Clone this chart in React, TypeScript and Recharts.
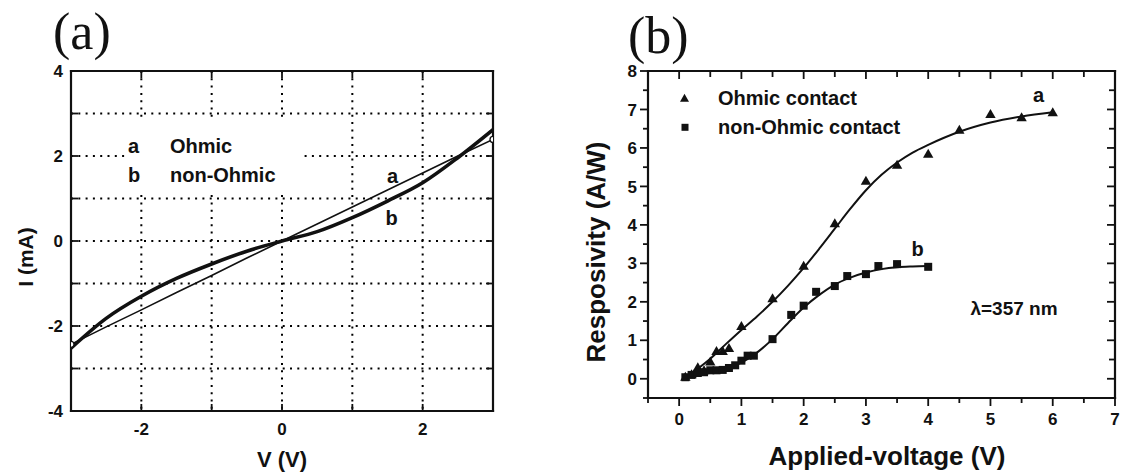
import React from 'react';
import { ComposedChart, LineChart, Line, Scatter, XAxis, YAxis, CartesianGrid, Legend } from 'recharts';

const SANS = '"Liberation Sans", Arial, Helvetica, sans-serif';
const SERIF = '"Liberation Serif", "Times New Roman", serif';
const INK = '#111';

// panel (a): I-V curves
const ivVoltage = [-3, -2.5, -2, -1.5, -1, -0.5, 0, 0.5, 1, 1.5, 2, 2.5, 3];
const ivOhmic = [-2.43, -2.02, -1.62, -1.21, -0.81, -0.4, 0, 0.4, 0.8, 1.2, 1.6, 2.0, 2.39];
const ivNonOhmic = [-2.52, -1.82, -1.3, -0.88, -0.54, -0.24, 0, 0.22, 0.55, 0.94, 1.37, 1.96, 2.62];
const ivSeries = ['Ohmic', 'non-Ohmic'];
const ivKeys = ['a', 'b'];
const ivTicksX = [-3, -2, -1, 0, 1, 2, 3];
const ivTicksY = [-4, -3, -2, -1, 0, 1, 2, 3, 4];

// panel (b): responsivity, measured points
const ohmicV = [0.1, 0.2, 0.3, 0.4, 0.5, 0.6, 0.7, 0.8, 1, 1.5, 2, 2.5, 3, 3.5, 4, 4.5, 5, 5.5, 6];
const ohmicR = [0.05, 0.12, 0.3, 0.22, 0.45, 0.72, 0.72, 0.8, 1.37, 2.09, 2.94, 4.04, 5.15, 5.56, 5.85, 6.47, 6.88, 6.8, 6.93];
const nonOhmicV = [0.1, 0.2, 0.3, 0.4, 0.5, 0.6, 0.7, 0.8, 0.9, 1.0, 1.1, 1.2, 1.5, 1.8, 2.0, 2.2, 2.5, 2.7, 3.0, 3.2, 3.5, 4.0];
const nonOhmicR = [0.04, 0.1, 0.15, 0.17, 0.22, 0.22, 0.23, 0.28, 0.35, 0.47, 0.6, 0.6, 1.03, 1.66, 1.9, 2.26, 2.41, 2.67, 2.72, 2.93, 2.98, 2.91];
const respSeries = ['Ohmic contact', 'non-Ohmic contact'];

// panel (b): fitted curves
const fitOhmicV = [0.1, 0.25, 0.5, 0.75, 1, 1.25, 1.5, 1.75, 2, 2.25, 2.5, 2.75, 3, 3.25, 3.5, 3.75, 4, 4.5, 5, 5.5, 6];
const fitOhmicR = [0.02, 0.2, 0.52, 0.9, 1.27, 1.62, 2.0, 2.42, 2.88, 3.38, 3.9, 4.42, 4.9, 5.3, 5.62, 5.88, 6.08, 6.42, 6.66, 6.82, 6.93];
const fitNonOhmicV = [0.1, 0.5, 0.75, 1, 1.25, 1.5, 1.75, 2, 2.25, 2.5, 2.75, 3, 3.25, 3.5, 3.75, 4];
const fitNonOhmicR = [0.03, 0.18, 0.26, 0.42, 0.68, 1.03, 1.45, 1.85, 2.18, 2.45, 2.63, 2.76, 2.85, 2.9, 2.92, 2.93];

const rTicksX = [-0.5, 0, 0.5, 1, 1.5, 2, 2.5, 3, 3.5, 4, 4.5, 5, 5.5, 6, 6.5, 7];
const rTicksY = [-0.5, 0, 0.5, 1, 1.5, 2, 2.5, 3, 3.5, 4, 4.5, 5, 5.5, 6, 6.5, 7, 7.5, 8];

const ivData = ivVoltage.map((v, i) => ({ v, a: ivOhmic[i], b: ivNonOhmic[i] }));
const toPoints = (xs: number[], ys: number[]) => xs.map((x, i) => ({ x, y: ys[i] }));

type Side = 'top' | 'bottom' | 'left' | 'right';
interface TickSpec {
  side: Side;
  inward: boolean;
  majorLen: number;
  minorLen: number;
  labelEvery?: number;
  labelGap?: number;
  fontSize?: number;
}

const near = (v: number, step: number) => Math.abs(v / step - Math.round(v / step)) < 1e-6;

// draws the tick mark itself so minor/major lengths and in/out direction can differ
const makeTick = (s: TickSpec) => (props: any) => {
  const { x, y, payload, index } = props;
  const v = Number(payload.value);
  const len = near(v, 1) ? s.majorLen : s.minorLen;
  const out = s.inward ? -len : len;
  const away = s.side === 'bottom' || s.side === 'right' ? 1 : -1;
  const horizontal = s.side === 'top' || s.side === 'bottom';
  const lineProps = horizontal
    ? { x1: x, x2: x, y1: y, y2: y + away * out }
    : { x1: x, x2: x + away * out, y1: y, y2: y };
  const fs = s.fontSize ?? 17;
  const gap = s.labelGap ?? 0;
  let label = null;
  if (s.labelEvery !== undefined && near(v, s.labelEvery)) {
    if (s.side === 'bottom') {
      label = (
        <text x={x} y={y + gap} textAnchor="middle" fontFamily={SANS} fontWeight="bold" fontSize={fs} fill={INK}>
          {String(v)}
        </text>
      );
    } else if (s.side === 'left') {
      label = (
        <text x={x - gap} y={y + fs * 0.36} textAnchor="end" fontFamily={SANS} fontWeight="bold" fontSize={fs} fill={INK}>
          {String(v)}
        </text>
      );
    }
  }
  return (
    <g key={`tick-${s.side}-${index}`}>
      <line {...lineProps} stroke={INK} strokeWidth={1.8} />
      {label}
    </g>
  );
};

const frameLine = { stroke: INK, strokeWidth: 2.2, strokeLinecap: 'square' as const };
const axisCommon = { tickSize: 0, tickMargin: 0, tickLine: false, interval: 0 as const, allowDataOverflow: true };

const endDot = (props: any) => {
  const { cx, cy, index } = props;
  if (index === 0 || index === ivVoltage.length - 1) {
    return <circle key={`end-${index}`} cx={cx} cy={cy} r={3} fill="#fff" stroke={INK} strokeWidth={1.3} />;
  }
  return <g key={`end-${index}`} />;
};

const IvLegend = (props: any) => {
  const items = ((props.payload ?? []) as any[]).filter((it) => ivSeries.includes(it.value));
  return (
    <svg width={176} height={72} style={{ display: 'block', background: '#fff', overflow: 'visible' }}>
      {items.map((it: any) => {
        const k = ivSeries.indexOf(it.value);
        const y = 30.5 + k * 29;
        return (
          <g key={String(it.value)} fontFamily={SANS} fontWeight="bold" fontSize={20} fill={INK}>
            <text x={2} y={y}>{ivKeys[k]}</text>
            <text x={44} y={y}>{it.value}</text>
          </g>
        );
      })}
    </svg>
  );
};

const Triangle = (props: any) => {
  const { cx, cy } = props;
  return <polygon points={`${cx},${cy - 5} ${cx + 5.2},${cy + 4} ${cx - 5.2},${cy + 4}`} fill={INK} />;
};

const Square = (props: any) => {
  const { cx, cy } = props;
  return <rect x={cx - 4} y={cy - 4} width={8} height={8} fill={INK} />;
};

const RespLegend = (props: any) => {
  const items = ((props.payload ?? []) as any[]).filter((it) => respSeries.includes(it.value));
  return (
    <svg width={260} height={60} style={{ display: 'block', overflow: 'visible' }}>
      {items.map((it: any) => {
        const k = respSeries.indexOf(it.value);
        const cy = 12.3 + k * 29;
        return (
          <g key={String(it.value)}>
            {k === 0 ? (
              <polygon points={`12.5,${cy - 4.5} 17,${cy + 3.5} 8,${cy + 3.5}`} fill={INK} />
            ) : (
              <rect x={9.5} y={cy - 3.5} width={7} height={7} fill={INK} />
            )}
            <text x={46} y={cy + 7} fontFamily={SANS} fontWeight="bold" fontSize={20} fill={INK}>
              {it.value}
            </text>
          </g>
        );
      })}
    </svg>
  );
};

const App: React.FC = () => {
  return (
    <div style={{ position: 'absolute', left: 0, top: 0, width: 1125, height: 473, background: '#fff', overflow: 'hidden' }}>
      {/* (a) I-V */}
      <div style={{ position: 'absolute', left: 0, top: 0 }}>
        <LineChart width={520} height={473} data={ivData} margin={{ top: 70, right: 26, bottom: 61, left: 70 }}>
          <CartesianGrid stroke="#000" strokeWidth={2} strokeDasharray="2 5.3" />
          <XAxis dataKey="v" type="number" domain={[-3, 3]} ticks={ivTicksX} height={1} axisLine={frameLine} {...axisCommon}
            tick={makeTick({ side: 'bottom', inward: true, majorLen: 7, minorLen: 7, labelEvery: 2, labelGap: 24 })} />
          <XAxis xAxisId="top" orientation="top" dataKey="v" type="number" domain={[-3, 3]} ticks={ivTicksX} height={1} axisLine={frameLine} {...axisCommon}
            tick={makeTick({ side: 'top', inward: true, majorLen: 7, minorLen: 7 })} />
          <YAxis type="number" domain={[-4, 4]} ticks={ivTicksY} width={1} axisLine={frameLine} {...axisCommon}
            tick={makeTick({ side: 'left', inward: true, majorLen: 7, minorLen: 7, labelEvery: 2, labelGap: 8 })} />
          <YAxis yAxisId="right" orientation="right" type="number" domain={[-4, 4]} ticks={ivTicksY} width={1} axisLine={frameLine} {...axisCommon}
            tick={makeTick({ side: 'right', inward: true, majorLen: 7, minorLen: 7 })} />
          <Line dataKey="a" name={ivSeries[0]} type="linear" stroke={INK} strokeWidth={1.6} dot={endDot} isAnimationActive={false} />
          <Line dataKey="b" name={ivSeries[1]} type="monotone" stroke={INK} strokeWidth={3.6} dot={false} isAnimationActive={false} />
          <Legend layout="vertical" align="center" verticalAlign="middle" content={IvLegend}
            wrapperStyle={{ left: 126, top: 122, width: 176, height: 72, margin: 0, padding: 0 }} />
        </LineChart>
      </div>

      {/* (b) responsivity */}
      <div style={{ position: 'absolute', left: 560, top: 0 }}>
        <ComposedChart width={565} height={473} margin={{ top: 70, right: 9, bottom: 74, left: 87 }}>
          <XAxis dataKey="x" type="number" domain={[-0.5, 7]} ticks={rTicksX} height={1} axisLine={frameLine} {...axisCommon}
            tick={makeTick({ side: 'bottom', inward: false, majorLen: 8, minorLen: 5, labelEvery: 1, labelGap: 27 })} />
          <XAxis xAxisId="top" orientation="top" dataKey="x" type="number" domain={[-0.5, 7]} ticks={rTicksX} height={1} axisLine={frameLine} {...axisCommon}
            tick={makeTick({ side: 'top', inward: true, majorLen: 8, minorLen: 6 })} />
          <YAxis dataKey="y" type="number" domain={[-0.5, 8]} ticks={rTicksY} width={1} axisLine={frameLine} {...axisCommon}
            tick={makeTick({ side: 'left', inward: false, majorLen: 8, minorLen: 5, labelEvery: 1, labelGap: 11 })} />
          <YAxis yAxisId="right" orientation="right" dataKey="y" type="number" domain={[-0.5, 8]} ticks={rTicksY} width={1} axisLine={frameLine} {...axisCommon}
            tick={makeTick({ side: 'right', inward: true, majorLen: 8, minorLen: 6 })} />
          <Line data={toPoints(fitOhmicV, fitOhmicR)} dataKey="y" name="fit a" type="monotone" stroke={INK} strokeWidth={2} dot={false} legendType="none" isAnimationActive={false} />
          <Line data={toPoints(fitNonOhmicV, fitNonOhmicR)} dataKey="y" name="fit b" type="monotone" stroke={INK} strokeWidth={2} dot={false} legendType="none" isAnimationActive={false} />
          <Scatter data={toPoints(ohmicV, ohmicR)} name={respSeries[0]} legendType="triangle" shape={Triangle} isAnimationActive={false} />
          <Scatter data={toPoints(nonOhmicV, nonOhmicR)} name={respSeries[1]} legendType="square" shape={Square} isAnimationActive={false} />
          <Legend layout="vertical" align="center" verticalAlign="middle" content={RespLegend}
            wrapperStyle={{ left: 112, top: 86, width: 260, height: 60, margin: 0, padding: 0 }} />
        </ComposedChart>
      </div>

      {/* titles and annotations */}
      <svg width={1125} height={473} style={{ position: 'absolute', left: 0, top: 0, pointerEvents: 'none' }}>
        <text x={53} y={49} fontFamily={SERIF} fontSize={52} fill={INK}>(a)</text>
        <text x={628} y={53} fontFamily={SERIF} fontSize={52} fill={INK}>(b)</text>
        <g fontFamily={SANS} fontWeight="bold" fill={INK}>
          <text transform="translate(32.5,257) rotate(-90)" textAnchor="middle" fontSize={21}>I (mA)</text>
          <text x={282} y={467} textAnchor="middle" fontSize={22}>V (V)</text>
          <text x={392.5} y={183} textAnchor="middle" fontSize={20}>a</text>
          <text x={391.5} y={225} textAnchor="middle" fontSize={20}>b</text>
          <text transform="translate(605,252) rotate(-90)" textAnchor="middle" fontSize={26}>Resposivity (A/W)</text>
          <text x={887} y={465} textAnchor="middle" fontSize={26}>Applied-voltage (V)</text>
          <text x={1038.5} y={101.5} textAnchor="middle" fontSize={20}>a</text>
          <text x={917.5} y={256} textAnchor="middle" fontSize={20}>b</text>
          <text x={1014} y={315} textAnchor="middle" fontSize={19}>λ=357 nm</text>
        </g>
      </svg>
    </div>
  );
};

export default App;
